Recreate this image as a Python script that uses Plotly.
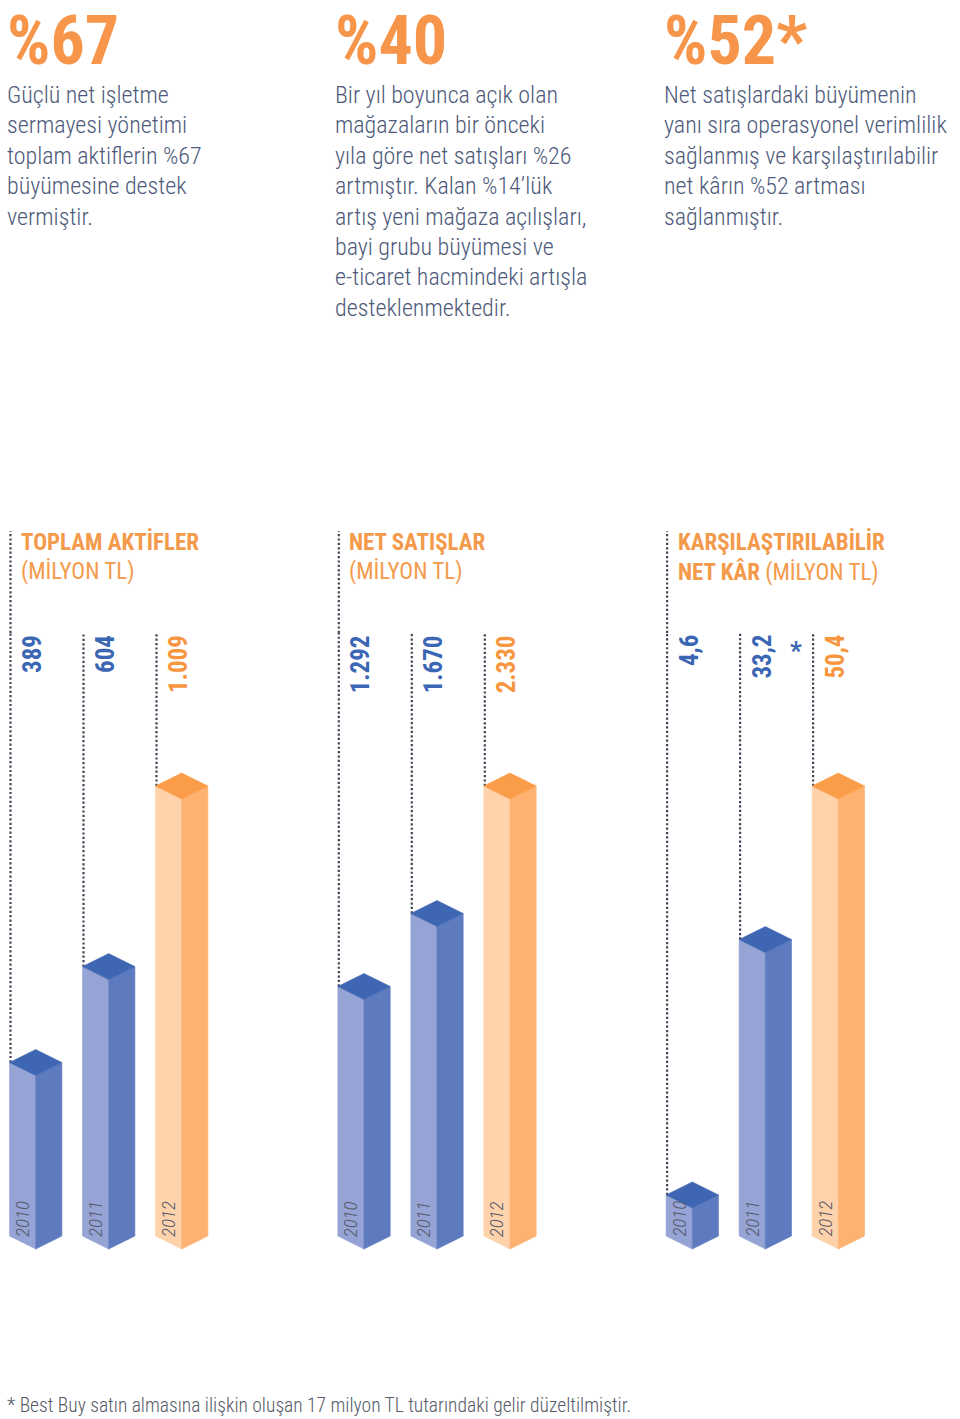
import plotly.graph_objects as go

# ---------------- data ----------------
years = ["2010", "2011", "2012"]

total_assets = [389, 604, 1009]
net_sales = [1292, 1670, 2330]
net_profit = [4.6, 33.2, 50.4]

assets_labels = ["389", "604", "1.009"]
sales_labels = ["1.292", "1.670", "2.330"]
profit_labels = ["4,6", "33,2", "50,4"]
profit_notes = ["", "*", ""]

group_titles = [
    ["<b>TOPLAM AKTİFLER</b>", "(MİLYON TL)"],
    ["<b>NET SATIŞLAR</b>", "(MİLYON TL)"],
    ["<b>KARŞILAŞTIRILABİLİR</b>", "<b>NET KÂR</b> (MİLYON TL)"],
]

headline_values = ["%67", "%40", "%52*"]
headline_texts = [
    ["Güçlü net işletme", "sermayesi yönetimi", "toplam aktiflerin %67",
     "büyümesine destek", "vermiştir."],
    ["Bir yıl boyunca açık olan", "mağazaların bir önceki", "yıla göre net satışları %26",
     "artmıştır. Kalan %14’lük", "artış yeni mağaza açılışları,", "bayi grubu büyümesi ve",
     "e-ticaret hacmindeki artışla", "desteklenmektedir."],
    ["Net satışlardaki büyümenin", "yanı sıra operasyonel verimlilik", "sağlanmış ve karşılaştırılabilir",
     "net kârın %52 artması", "sağlanmıştır."],
]

footnote = "* Best Buy satın almasına ilişkin oluşan 17 milyon TL tutarındaki gelir düzeltilmiştir."

groups = [
    (total_assets, assets_labels, ["", "", ""]),
    (net_sales, sales_labels, ["", "", ""]),
    (net_profit, profit_labels, profit_notes),
]

# ---------------- style / layout constants ----------------
W, H = 960, 1419
FONT = "Roboto Condensed"
BLUE_TXT = "#3a66b4"
ORANGE_TXT = "#f7963f"
BODY_TXT = "#4d5a7a"
DOT_COL = "#3f4552"
FACE_COLS = {
    "blue": ("#95a3d5", "#5e7bbf", "#3e66b2"),
    "orange": ("#fed2ab", "#fdb272", "#fb9c48"),
}

GROUP_STEP_PX = 328.3
FIRST_FRONT_PX = 35.7     # x of the front edge of the first bar
BAR_STEP_PX = 73.0
HALF_W_PX = 26.2
ISO_PX = 13.0
BASE_PX = 1236.0          # baseline (side corners of bar bottoms)
MAXBAR_PX = 786.0         # side corner of tallest bar in each group
DOM_BOTTOM_PX = 1262.0
DOM_TOP_PX = 633.0
X_RANGE = [-0.48, 2.6]
DOTS = dict(color=DOT_COL, width=2.2, dash="2.2px,2.2px")


def py(px):
    return 1 - px / H


def pxx(px):
    return min(max(px / W, 0.0), 1.0)


fig = go.Figure()
shapes = []
anns = []

for g, (vals, labels, notes) in enumerate(groups):
    sfx = "" if g == 0 else str(g + 1)
    xref, yref = "x" + sfx, "y" + sfx
    x0 = FIRST_FRONT_PX + g * GROUP_STEP_PX
    dom = [pxx(x0 + X_RANGE[0] * BAR_STEP_PX), pxx(x0 + X_RANGE[1] * BAR_STEP_PX)]
    k = max(vals) / (BASE_PX - MAXBAR_PX)   # data units per pixel
    yr = [-(DOM_BOTTOM_PX - BASE_PX) * k, (BASE_PX - DOM_TOP_PX) * k]
    hw = HALF_W_PX / BAR_STEP_PX
    d = ISO_PX * k
    fig.update_layout(**{
        "xaxis" + sfx: dict(domain=dom, range=X_RANGE, visible=False, fixedrange=True, anchor=yref),
        "yaxis" + sfx: dict(domain=[py(DOM_BOTTOM_PX), py(DOM_TOP_PX)], range=yr,
                            visible=False, fixedrange=True, anchor=xref),
    })

    for i, v in enumerate(vals):
        last = i == len(vals) - 1
        left_c, right_c, top_c = FACE_COLS["orange" if last else "blue"]
        xl, xc, xr_ = i - hw, i, i + hw
        # dotted guide
        fig.add_trace(go.Scatter(x=[xl + 1 / BAR_STEP_PX] * 2, y=[v, yr[1]], mode="lines",
                                 line=DOTS, xaxis=xref, yaxis=yref, hoverinfo="skip"))
        # faces
        faces = [
            ([xl, xc, xc, xl, xl], [0, -d, v - d, v, 0], left_c),
            ([xc, xr_, xr_, xc, xc], [-d, 0, v, v - d, -d], right_c),
            ([xl, xc, xr_, xc, xl], [v, v + d, v, v - d, v], top_c),
        ]
        for fx, fy, col in faces:
            fig.add_trace(go.Scatter(x=fx, y=fy, fill="toself", fillcolor=col, mode="lines",
                                     line=dict(color=col, width=0.6),
                                     xaxis=xref, yaxis=yref, hoverinfo="skip"))
        # value label
        col_txt = ORANGE_TXT if last else BLUE_TXT
        anns.append(dict(x=xl, xref=xref, xshift=23.5, y=py(633), yref="paper",
                         xanchor="center", yanchor="top", textangle=-90, showarrow=False,
                         text=labels[i], font=dict(family=FONT, size=25, weight=700, color=col_txt)))
        if notes[i]:
            anns.append(dict(x=xl, xref=xref, xshift=57, y=py(634), yref="paper",
                             xanchor="center", yanchor="top", showarrow=False,
                             text=notes[i], font=dict(family=FONT, size=26, weight=700, color=col_txt)))
        # year label
        anns.append(dict(x=xl, xref=xref, xshift=12.5, y=0, yref=yref, yshift=-3,
                         xanchor="center", yanchor="bottom", textangle=-90, showarrow=False,
                         text="<i>" + years[i] + "</i>",
                         font=dict(family=FONT, size=19, weight=300, color="#55596a")))

    # extension of first guide up to the header
    shapes.append(dict(type="line", xref=xref, yref="paper",
                       x0=-hw + 1 / BAR_STEP_PX, x1=-hw + 1 / BAR_STEP_PX,
                       y0=py(DOM_TOP_PX), y1=py(531), line=DOTS))

    # headers
    hx = pxx(19 + g * GROUP_STEP_PX)
    for j, t in enumerate(group_titles[g]):
        anns.append(dict(x=hx, xref="paper", y=py(542 + j * 29.5), yref="paper",
                         xanchor="left", yanchor="middle", showarrow=False, text=t,
                         font=dict(family=FONT, size=23, weight=400, color="#f39a4b")))

    # headline number and body text
    tx = pxx(5 + g * GROUP_STEP_PX)
    anns.append(dict(x=tx, xref="paper", y=py(41), yref="paper", xanchor="left", yanchor="middle",
                     showarrow=False, text=headline_values[g],
                     font=dict(family=FONT, size=68, weight=700, color="#f7964a")))
    for j, line in enumerate(headline_texts[g]):
        anns.append(dict(x=tx, xref="paper", y=py(95 + j * 30.4), yref="paper",
                         xanchor="left", yanchor="middle", showarrow=False, text=line,
                         font=dict(family=FONT, size=24, weight=300, color=BODY_TXT)))

anns.append(dict(x=pxx(5), xref="paper", y=py(1405), yref="paper", xanchor="left", yanchor="middle",
                 showarrow=False, text=footnote,
                 font=dict(family=FONT, size=19.5, weight=300, color="#555a66")))

fig.update_layout(width=W, height=H, autosize=False, margin=dict(l=0, r=0, t=0, b=0),
                  paper_bgcolor="white", plot_bgcolor="rgba(0,0,0,0)", showlegend=False,
                  shapes=shapes, annotations=anns)
fig.write_html("out.html", config={"displayModeBar": False},
               post_script="document.body.style.margin='0';")
